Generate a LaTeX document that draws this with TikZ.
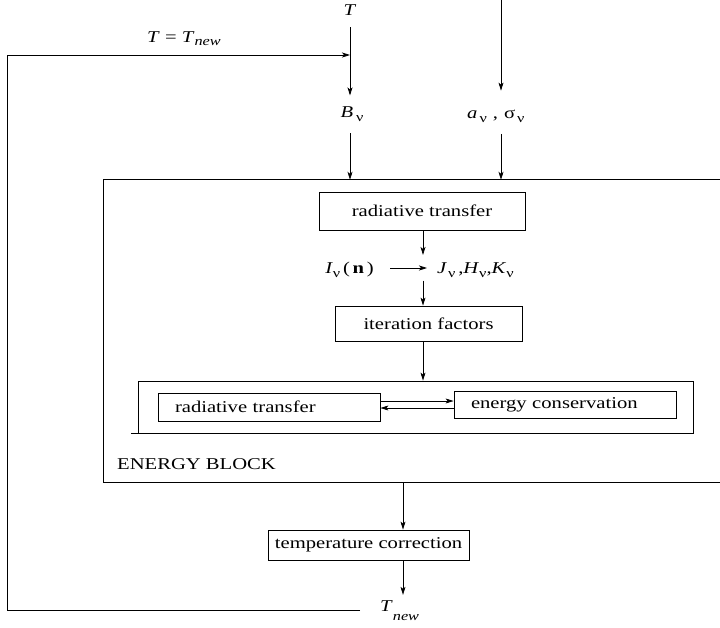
\documentclass[tikz,border=0pt]{standalone}
\usepackage{fontspec}
\setmainfont[FakeStretch=1.25]{Liberation Serif}
\usetikzlibrary{arrows.meta}
% lowered subscript
\newcommand{\lo}[2][0.5ex]{\raisebox{-#1}{\fontsize{13}{14}\selectfont #2}}
\tikzset{
  blk/.style={draw, line width=0.8pt, inner sep=0pt},
  lblock/.style={blk, align=left, inner xsep=17pt},
  flow/.style={-{Stealth[length=8pt,width=5pt,inset=2pt]}, line width=0.8pt},
  lbl/.style={inner sep=0pt},
}
\begin{document}
\begin{tikzpicture}[x=1pt, y=-1pt, font=\fontsize{16.5}{19}\selectfont]
\useasboundingbox (0,0) rectangle (720,627);

%% inputs
\node[lbl] (Tin) at (350,10) {\textit{T}};
\node[lbl] (Bnu) at (352,114) {\textit{B}\kern3pt\lo{ν}};
\node[lbl, anchor=west] (anu) at (467,116) {\textit{a}\kern2pt\lo{ν}\kern6pt,\kern6pt σ\kern2pt\lo{ν}};
\node[lbl, anchor=west] (Teq) at (147,39) {\textit{T} = \textit{T}\lo[3pt]{\textit{new}}};
\coordinate (srcR) at (501,0);

%% energy block
\node[minimum width=616pt, minimum height=302pt, inner sep=0pt] (eblock) at (412,331) {};
\draw[line width=0.8pt] (eblock.north east) -- (eblock.north west)
  -- (eblock.south west) -- (eblock.south east);
\node[lbl, anchor=west] (elabel) at (117,464) {ENERGY BLOCK};

\node[blk, minimum width=206pt, minimum height=38pt] (rt) at (422,211) {radiative transfer};
\node[lbl, anchor=east] (Inu) at (374,270) {\textit{I}\lo{ν}\,(\,\textbf{n}\,)};
\node[lbl, anchor=west] (JHK) at (437,270) {\textit{J}\kern1pt\lo{ν}\,,\textit{H}\lo{ν},\textit{K}\lo{ν}};
\node[blk, minimum width=187pt, minimum height=35pt] (iter) at (428.5,323.5) {iteration factors};

\node[blk, minimum width=555pt, minimum height=52pt] (inner) at (415.5,407) {};
\draw[line width=0.8pt] (inner.south west) -- ++(-7,0);
\node[lblock, text width=188pt, minimum height=28pt] (rtin) at (269,407) {radiative transfer};
\node[lblock, text width=188pt, minimum height=27pt] (encon) at (565,404.5) {energy conservation};

%% correction
\node[blk, minimum width=201pt, minimum height=30pt] (tc) at (368.5,545) {temperature correction};
\node[lbl, anchor=west] (Tnew) at (380,611) {\textit{T}\lo[9pt]{\textit{new}}};

\coordinate (colC) at (423,0);
\coordinate (colD) at (403,0);
\coordinate (hiA) at (0,401);
\coordinate (loA) at (0,408);
\coordinate (loopB) at (360,610);
\coordinate (loopL) at (7,55);

\draw[flow, shorten <=11.5pt, shorten >=11pt] (Tin) -- (Bnu.north -| Tin);
\draw[flow, shorten >=19pt] (srcR) -- (anu.north -| srcR);
\draw[flow, shorten <=11.5pt] (Bnu.south -| Tin) -- (eblock.north -| Tin);
\draw[flow, shorten <=11.5pt] (anu.south -| srcR) -- (eblock.north -| srcR);

\draw[flow, shorten >=7.5pt] (rt.south -| colC) -- (JHK.north -| colC);
\draw[flow, shorten <=3pt] (JHK.south -| colC) -- (iter.north -| colC);
\draw[flow, shorten <=16pt, shorten >=10pt] ([yshift=2pt]Inu.east) -- ([yshift=2pt]JHK.west);
\draw[flow] (iter.south -| colC) -- (inner.north -| colC);

\draw[flow] (rtin.east |- hiA) -- (encon.west |- hiA);
\draw[flow] (encon.west |- loA) -- (rtin.east |- loA);

\draw[flow] (eblock.south -| colD) -- (tc.north -| colD);
\draw[flow, shorten >=6pt] (tc.south -| colD) -- (Tnew.north -| colD);

%% feedback loop
\draw[flow] (loopB) -| (loopL) -- (Tin |- loopL);

\end{tikzpicture}
\end{document}
